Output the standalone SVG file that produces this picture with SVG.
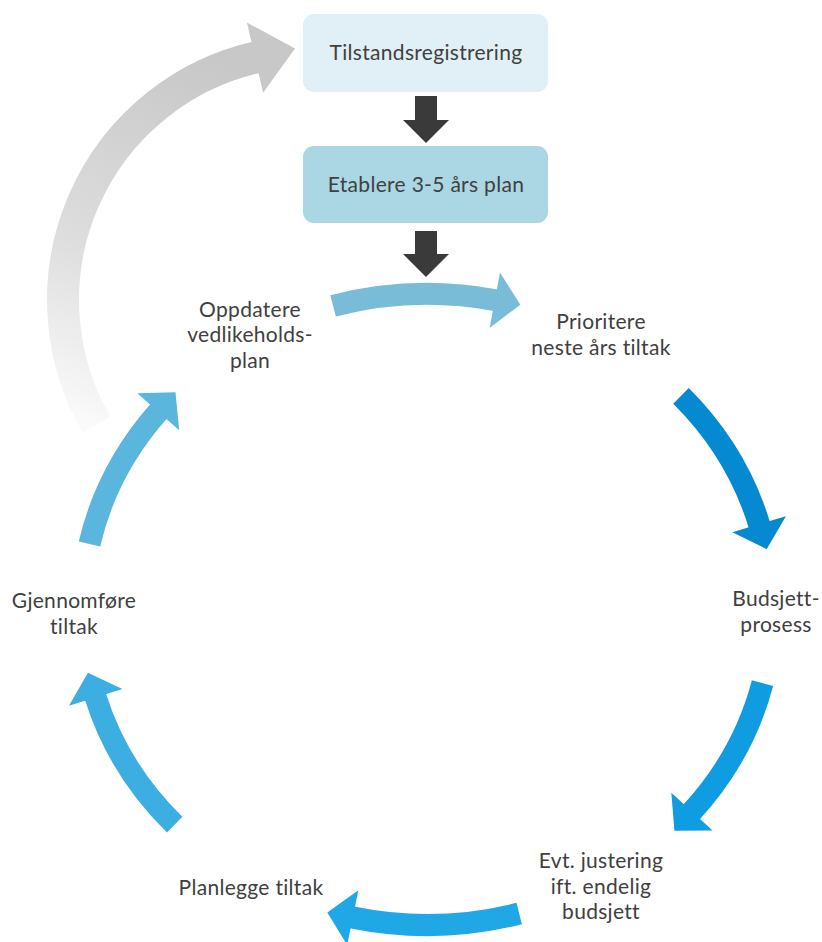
<svg xmlns="http://www.w3.org/2000/svg" width="822" height="942" viewBox="0 0 822 942">
<style>
.lbl{font-family:Lato,"Open Sans","Liberation Sans",sans-serif;font-size:21px;letter-spacing:0.3px;fill:#404040;text-anchor:middle}
.arc{fill:none;stroke-width:22;stroke-linecap:butt}
</style>
<defs>
<linearGradient id="gg" gradientUnits="userSpaceOnUse" x1="90" y1="430" x2="230" y2="70">
<stop offset="0" stop-color="#FBFBFB"/>
<stop offset="0.45" stop-color="#DDDDDD"/>
<stop offset="1" stop-color="#C8C8C8"/>
</linearGradient>
<marker id="mg" markerUnits="userSpaceOnUse" viewBox="0 -36 42 72" refX="1" refY="0" markerWidth="42" markerHeight="72" orient="auto" overflow="visible"><path d="M0,-36 L41,0 L0,36 Z" fill="#C8C8C8"/></marker>
<marker id="m1" markerUnits="userSpaceOnUse" viewBox="0 -28 27 56" refX="1" refY="0" markerWidth="27" markerHeight="56" orient="auto" overflow="visible"><path d="M0,-28 L26,0 L0,28 Z" fill="#78BCD7"/></marker>
<marker id="m2" markerUnits="userSpaceOnUse" viewBox="0 -28 27 56" refX="1" refY="0" markerWidth="27" markerHeight="56" orient="auto" overflow="visible"><path d="M0,-28 L26,0 L0,28 Z" fill="#0589D1"/></marker>
<marker id="m3" markerUnits="userSpaceOnUse" viewBox="0 -28 27 56" refX="1" refY="0" markerWidth="27" markerHeight="56" orient="auto" overflow="visible"><path d="M0,-28 L26,0 L0,28 Z" fill="#109CE0"/></marker>
<marker id="m4" markerUnits="userSpaceOnUse" viewBox="0 -28 27 56" refX="1" refY="0" markerWidth="27" markerHeight="56" orient="auto" overflow="visible"><path d="M0,-28 L26,0 L0,28 Z" fill="#1FA7E6"/></marker>
<marker id="m5" markerUnits="userSpaceOnUse" viewBox="0 -28 27 56" refX="1" refY="0" markerWidth="27" markerHeight="56" orient="auto" overflow="visible"><path d="M0,-28 L26,0 L0,28 Z" fill="#3DAEE1"/></marker>
<marker id="m6" markerUnits="userSpaceOnUse" viewBox="0 -28 27 56" refX="1" refY="0" markerWidth="27" markerHeight="56" orient="auto" overflow="visible"><path d="M0,-28 L26,0 L0,28 Z" fill="#5AB6DC"/></marker>
</defs>
<rect width="822" height="942" fill="#FFFFFF"/>
<g id="connectors">
<path d="M96.4,424.5 A249,249 0 0 1 256,57.4" fill="none" stroke="url(#gg)" stroke-width="32" marker-end="url(#mg)"/>
<polygon points="415,96 437,96 437,120 449,120 426,143 403,120 415,120" fill="#3A3A3A"/>
<polygon points="415,231 437,231 437,254 449,254 426,277 403,254 415,254" fill="#3A3A3A"/>
<path class="arc" d="M333.1,305.9 A345,315.5 0 0 1 495.8,300.3" stroke="#78BCD7" marker-end="url(#m1)"/>
<path class="arc" d="M681,395.9 A345,315.5 0 0 1 759.4,525.2" stroke="#0589D1" marker-end="url(#m2)"/>
<path class="arc" d="M762.5,683.1 A345,315.5 0 0 1 691.3,812.3" stroke="#109CE0" marker-end="url(#m3)"/>
<path class="arc" d="M519.2,913.5 A345,315.5 0 0 1 351.8,917.4" stroke="#1FA7E6" marker-end="url(#m4)"/>
<path class="arc" d="M174.7,824.7 A345,315.5 0 0 1 95.4,696.5" stroke="#3DAEE1" marker-end="url(#m5)"/>
<path class="arc" d="M89.5,543.9 A345,315.5 0 0 1 158.9,411" stroke="#5AB6DC" marker-end="url(#m6)"/>
</g>
<g id="tilstand">
<rect x="303" y="14" width="245" height="78" rx="11" fill="#E1F0F6"/>
<text class="lbl" x="426" y="60">Tilstandsregistrering</text>
</g>
<g id="etablere">
<rect x="303" y="146" width="245" height="77" rx="11" fill="#ABD6E4"/>
<text class="lbl" x="426" y="192">Etablere 3-5 års plan</text>
</g>
<g id="prioritere">
<text class="lbl" x="601" y="329">Prioritere</text>
<text class="lbl" x="601" y="354.5">neste års tiltak</text>
</g>
<g id="budsjett">
<text class="lbl" x="776" y="606">Budsjett-</text>
<text class="lbl" x="776" y="631.5">prosess</text>
</g>
<g id="justering">
<text class="lbl" x="601" y="868">Evt. justering</text>
<text class="lbl" x="601" y="893.5">ift. endelig</text>
<text class="lbl" x="601" y="919">budsjett</text>
</g>
<g id="planlegge">
<text class="lbl" x="251" y="895">Planlegge tiltak</text>
</g>
<g id="gjennomfore">
<text class="lbl" x="74" y="608">Gjennomføre</text>
<text class="lbl" x="74" y="633.5">tiltak</text>
</g>
<g id="oppdatere">
<text class="lbl" x="250" y="316.5">Oppdatere</text>
<text class="lbl" x="250" y="342">vedlikeholds-</text>
<text class="lbl" x="250" y="367.5">plan</text>
</g>
</svg>
